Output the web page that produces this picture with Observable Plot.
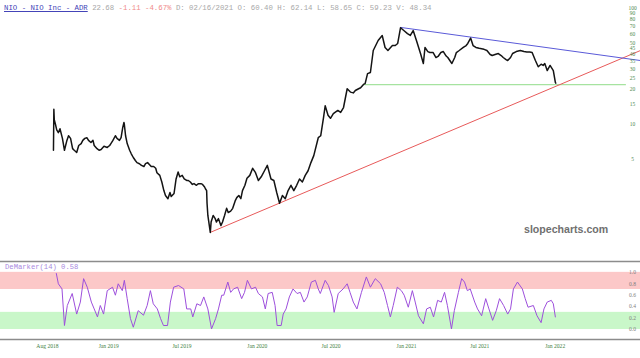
<!DOCTYPE html>
<html>
<head>
<meta charset="utf-8">
<script src="https://cdn.jsdelivr.net/npm/d3@7"></script>
<script src="https://cdn.jsdelivr.net/npm/@observablehq/plot@0.6"></script>
<style>
  html, body { margin: 0; padding: 0; background: #fff; }
  #wrap { position: relative; width: 640px; height: 358px; overflow: hidden; }
  #wrap svg { display: block; }
  #hdr { position: absolute; left: 4px; top: 3px; font-family: "Liberation Mono", "DejaVu Sans Mono", monospace; font-size: 7.35px; white-space: pre; color: #a8a8a8; line-height: 10px; }
  #hdr .t { color: #4444b8; text-decoration: underline; }
  #hdr .r { color: #f08a8a; }
  #wm { position: absolute; left: 524px; top: 223px; font-family: "Liberation Sans", Arial, sans-serif; font-weight: bold; font-size: 10.6px; color: #707070; }
  #dm { position: absolute; left: 5px; top: 262px; font-family: "Liberation Mono", "DejaVu Sans Mono", monospace; font-size: 7.2px; color: #a98ae0; white-space: pre; line-height: 10px; }
</style>
</head>
<body>
<div id="wrap">
  <div id="topPanel"></div>
  <div id="bottomPanel"></div>
  <div id="hdr"><span class="t">NIO - NIO Inc - ADR</span> 22.68 <span class="r">-1.11 -4.67%</span> D: 02/16/2021 O: 60.40 H: 62.14 L: 58.65 C: 59.23 V: 48.34</div>
  <div id="wm">slopecharts.com</div>
  <div id="dm">DeMarker(14) 0.58</div>
</div>
<script>
// ---------- data ----------
const priceDates = [
"2018-09-12","2018-09-13","2018-09-14","2018-09-17","2018-09-20","2018-09-24","2018-09-28","2018-10-04","2018-10-09","2018-10-15",
"2018-10-19","2018-10-24","2018-10-29","2018-11-02","2018-11-08","2018-11-13","2018-11-19","2018-11-23","2018-11-28","2018-12-03",
"2018-12-07","2018-12-13","2018-12-18","2018-12-21","2018-12-28","2019-01-02","2019-01-07","2019-01-14","2019-01-22","2019-01-28",
"2019-01-31","2019-02-05","2019-02-11","2019-02-15","2019-02-21","2019-02-25","2019-03-01","2019-03-04","2019-03-05","2019-03-08",
"2019-03-12","2019-03-18","2019-03-22","2019-03-27","2019-04-01","2019-04-05","2019-04-11","2019-04-16","2019-04-22","2019-04-26",
"2019-05-01","2019-05-06","2019-05-10","2019-05-16","2019-05-21","2019-05-24","2019-05-31","2019-06-05","2019-06-10","2019-06-14",
"2019-06-20","2019-06-25","2019-06-28","2019-07-05","2019-07-10","2019-07-15","2019-07-19","2019-07-25","2019-07-30","2019-08-05",
"2019-08-09","2019-08-14","2019-08-19","2019-08-23","2019-08-29","2019-09-03","2019-09-09","2019-09-13","2019-09-18","2019-09-20",
"2019-09-23","2019-09-24","2019-09-26","2019-10-02","2019-10-04","2019-10-09","2019-10-14","2019-10-17","2019-10-22","2019-10-28",
"2019-11-01","2019-11-06","2019-11-11","2019-11-15","2019-11-21","2019-11-26","2019-12-02","2019-12-06","2019-12-11","2019-12-16",
"2019-12-20","2019-12-26","2019-12-31","2020-01-07","2020-01-14","2020-01-21","2020-01-28","2020-02-04","2020-02-12","2020-02-19",
"2020-02-28","2020-03-06","2020-03-13","2020-03-20","2020-03-27","2020-04-03","2020-04-10","2020-04-17","2020-04-24","2020-05-01",
"2020-05-08","2020-05-15","2020-05-22","2020-05-29","2020-06-05","2020-06-12","2020-06-23","2020-06-29","2020-07-06","2020-07-10",
"2020-07-17","2020-07-23","2020-07-30","2020-08-10","2020-08-17","2020-08-24","2020-09-02","2020-09-10","2020-09-17","2020-09-22",
"2020-09-30","2020-10-05","2020-10-12","2020-10-16","2020-10-22","2020-10-29","2020-11-05","2020-11-17","2020-11-27","2020-12-04",
"2020-12-11","2020-12-22","2020-12-29","2021-01-04","2021-01-11","2021-01-19","2021-01-28","2021-02-04","2021-02-11","2021-02-19",
"2021-03-01","2021-03-08","2021-03-12","2021-03-19","2021-03-24","2021-04-01","2021-04-08","2021-04-13","2021-04-20","2021-04-26",
"2021-05-03","2021-05-07","2021-05-17","2021-05-24","2021-05-28","2021-06-04","2021-06-14","2021-06-21","2021-06-25","2021-07-02",
"2021-07-08","2021-07-15","2021-07-23","2021-08-04","2021-08-11","2021-08-19","2021-08-24","2021-08-31","2021-09-08","2021-09-15",
"2021-09-20","2021-09-27","2021-10-01","2021-10-08","2021-10-13","2021-10-22","2021-11-01","2021-11-10","2021-11-17","2021-11-24",
"2021-11-30","2021-12-08","2021-12-15","2021-12-22","2021-12-27","2021-12-31","2022-01-06","2022-01-13","2022-01-21","2022-01-26",
"2022-01-27"];
const priceValues = [
6.0,13.5,11.0,10.0,9.0,8.5,9.2,7.6,6.0,7.3,
8.0,7.6,6.2,6.0,5.75,6.6,6.85,7.3,7.6,7.7,
7.3,7.0,7.3,6.6,6.2,6.0,6.1,6.5,6.35,6.6,
6.85,7.3,8.0,7.6,7.3,7.7,9.4,10.4,10.0,8.0,
6.85,6.0,5.6,5.2,4.9,4.7,4.6,4.45,4.35,4.6,
4.7,4.5,4.35,4.35,4.2,3.85,3.65,3.2,2.7,2.45,
2.3,2.6,2.4,2.55,3.4,3.9,3.55,3.65,3.4,3.3,
3.3,3.2,3.05,3.1,3.0,3.1,3.1,3.05,2.9,2.8,
2.7,2.1,1.65,1.18,1.45,1.65,1.55,1.45,1.55,1.35,
1.45,1.65,1.9,1.75,1.8,1.9,2.2,2.35,2.45,2.3,
2.7,3.0,3.45,3.65,4.2,3.85,3.3,3.55,4.0,4.45,
3.4,3.3,2.6,2.1,2.45,2.3,2.7,3.0,2.7,3.0,
3.4,3.2,3.65,4.0,4.7,5.4,7.7,8.0,11.5,14.5,
12.0,11.3,12.4,13.2,12.7,14.0,20.3,19.0,18.7,19.6,
20.3,20.7,22.1,22.5,27.4,28.0,43.3,52.8,58.3,46.0,
43.3,47.8,47.8,49.8,68.0,64.3,60.5,58.3,64.3,52.8,
40.8,33.5,46.0,42.4,41.6,41.6,37.7,38.5,41.6,42.4,
38.8,37.7,33.5,37.7,41.6,43.3,46.0,47.8,49.8,55.4,
47.8,46.0,45.2,44.3,43.3,40.0,39.2,40.0,40.8,39.2,
37.7,36.2,35.5,37.7,40.8,42.4,43.3,42.4,42.0,42.0,
41.6,35.5,31.4,33.0,32.2,33.5,29.1,32.2,29.1,23.0,
22.68];

// trend lines (two end points each)
const supportDates = ["2019-10-02", "2022-08-23"];
const supportValues = [1.18, 43.3];
const resistDates = ["2021-01-11", "2022-08-23"];
const resistValues = [68.4, 35.5];
const levelDates = ["2020-10-15", "2022-07-17"];
const levelValues = [22.0, 22.0];

const priceTicks = [5, 10, 15, 20, 25, 30, 35, 40, 45, 50, 60, 70, 80, 90, 100];

const dmDates = [
"2018-09-19","2018-09-24","2018-10-03","2018-10-09","2018-10-16","2018-10-28","2018-11-08","2018-11-17","2018-11-25","2018-12-04",
"2018-12-14","2018-12-21","2018-12-29","2019-01-05","2019-01-13","2019-01-22","2019-02-04","2019-02-11","2019-02-18","2019-02-28",
"2019-03-05","2019-03-12","2019-03-20","2019-03-27","2019-04-08","2019-04-21","2019-04-30","2019-05-08","2019-05-15","2019-05-25",
"2019-06-02","2019-06-09","2019-06-19","2019-06-26","2019-07-04","2019-07-16","2019-07-29","2019-08-05","2019-08-15","2019-08-20",
"2019-08-30","2019-09-08","2019-09-16","2019-09-26","2019-10-05","2019-10-15","2019-10-22","2019-10-30","2019-11-04","2019-11-14",
"2019-11-21","2019-11-28","2019-12-08","2019-12-18","2019-12-25","2020-01-01","2020-01-11","2020-01-21","2020-01-28","2020-02-07",
"2020-02-14","2020-02-21","2020-03-02","2020-03-09","2020-03-14","2020-03-24","2020-03-29","2020-04-05","2020-04-13","2020-04-22",
"2020-05-02","2020-05-10","2020-05-19","2020-05-27","2020-06-06","2020-06-16","2020-06-23","2020-06-28","2020-07-10","2020-07-18",
"2020-07-27","2020-08-01","2020-08-11","2020-08-23","2020-09-02","2020-09-09","2020-09-17","2020-09-26","2020-10-07","2020-10-19",
"2020-10-29","2020-11-10","2020-11-23","2020-12-02","2020-12-10","2020-12-17","2020-12-24","2021-01-03","2021-01-13","2021-01-20",
"2021-01-30","2021-02-09","2021-02-16","2021-02-24","2021-03-08","2021-03-16","2021-03-25","2021-04-02","2021-04-12","2021-04-21",
"2021-04-29","2021-05-06","2021-05-16","2021-05-23","2021-06-02","2021-06-10","2021-06-17","2021-06-24","2021-07-01","2021-07-12",
"2021-07-19","2021-07-29","2021-08-08","2021-08-16","2021-08-25","2021-09-03","2021-09-11","2021-09-21","2021-10-01","2021-10-08",
"2021-10-15","2021-10-25","2021-11-06","2021-11-13","2021-11-20","2021-12-03","2021-12-12","2021-12-22","2021-12-29","2022-01-06",
"2022-01-16","2022-01-21","2022-01-26"];
const dmValues = [
0.98,0.80,0.71,0.07,0.42,0.63,0.27,0.48,0.89,0.74,
0.48,0.36,0.22,0.42,0.27,0.68,0.74,0.60,0.80,0.68,
0.86,0.54,0.19,0.04,0.33,0.25,0.42,0.68,0.45,0.36,
0.19,0.07,0.07,0.48,0.74,0.77,0.71,0.36,0.36,0.22,
0.45,0.42,0.57,0.36,0.01,0.19,0.36,0.60,0.60,0.83,
0.65,0.71,0.74,0.54,0.65,0.86,0.71,0.74,0.63,0.57,
0.36,0.63,0.65,0.42,0.07,0.07,0.27,0.36,0.57,0.71,
0.63,0.65,0.48,0.57,0.83,0.86,0.71,0.63,0.86,0.77,
0.57,0.30,0.63,0.71,0.80,0.65,0.48,0.36,0.65,0.92,
0.74,0.89,0.80,0.65,0.42,0.22,0.42,0.74,0.68,0.60,
0.39,0.68,0.48,0.24,0.10,0.36,0.39,0.22,0.51,0.48,
0.65,0.42,0.01,0.33,0.65,0.89,0.83,0.68,0.71,0.48,
0.36,0.24,0.54,0.36,0.16,0.33,0.54,0.42,0.27,0.36,
0.71,0.83,0.71,0.54,0.39,0.42,0.24,0.12,0.36,0.48,
0.51,0.45,0.22];

const dmBandsLow = [0.0, 0.7];
const dmBandsHigh = [0.3, 1.0];
const dmBandColors = ["#c9f7c9", "#fcc8c8"];
const dmTicks = [0.0, 0.2, 0.4, 0.6, 0.8, 1.0];
const dmPanel = [-0.175, 1.19];

const monthTickDates = ["2018-08-01","2019-01-01","2019-07-01","2020-01-01","2020-07-01","2021-01-01","2021-07-01","2022-01-01"];
const monthTickLabels = ["Aug 2018","Jan 2019","Jul 2019","Jan 2020","Jul 2020","Jan 2021","Jul 2021","Jan 2022"];

const xDomain = ["2018-05-05", "2022-08-23"];
const priceDomain = [0.732, 116.6];

// ---------- build ----------
const D = s => new Date(s + "T00:00:00Z");
const price = priceDates.map((d, i) => ({date: D(d), value: priceValues[i]}));
const support = supportDates.map((d, i) => ({date: D(d), value: supportValues[i]}));
const resist = resistDates.map((d, i) => ({date: D(d), value: resistValues[i]}));
const level = levelDates.map((d, i) => ({date: D(d), value: levelValues[i]}));
const dm = dmDates.map((d, i) => ({date: D(d), value: dmValues[i]}));
const bands = dmBandsLow.map((lo, i) => ({lo, hi: dmBandsHigh[i], color: dmBandColors[i]}));
const tickDates = monthTickDates.map(D);
const labelByTime = new Map(tickDates.map((d, i) => [+d, monthTickLabels[i]]));

const xScale = {type: "utc", domain: xDomain.map(D), axis: null};

const priceChart = Plot.plot({
  width: 640, height: 256,
  marginLeft: 0, marginRight: 0, marginTop: 0, marginBottom: 0,
  style: {background: "transparent", overflow: "visible"},
  x: xScale,
  y: {type: "log", domain: priceDomain, axis: null},
  marks: [
    Plot.line(level, {x: "date", y: "value", stroke: "#a6e3a0", strokeWidth: 1.2}),
    Plot.line(support, {x: "date", y: "value", stroke: "#e85a5a", strokeWidth: 1}),
    Plot.line(resist, {x: "date", y: "value", stroke: "#5a5ad8", strokeWidth: 1}),
    Plot.line(price, {x: "date", y: "value", stroke: "#141414", strokeWidth: 1.5, curve: "linear"}),
    Plot.text(priceTicks, {y: d => d, text: d => String(d), frameAnchor: "right", dx: -8, textAnchor: "middle",
      fontSize: 5.5, fill: "#4f8a4f", fontFamily: "Liberation Serif, serif"})
  ]
});
document.getElementById("topPanel").appendChild(priceChart);

const dmChart = Plot.plot({
  width: 640, height: 102,
  marginLeft: 0, marginRight: 0, marginTop: 5, marginBottom: 19,
  style: {background: "transparent", overflow: "visible"},
  x: xScale,
  y: {domain: dmPanel, axis: null},
  marks: [
    Plot.rect(bands, {y1: "lo", y2: "hi", fill: "color"}),
    Plot.ruleY(dmPanel, {stroke: "#8c8c8c", strokeWidth: 1.6}),
    Plot.line(dm, {x: "date", y: "value", stroke: "#9d4fdc", strokeWidth: 1}),
    Plot.text(dmTicks, {y: d => d, text: d => d3.format(".1f")(d), frameAnchor: "right", dx: -8, textAnchor: "middle",
      fontSize: 5.5, fill: "#808080", fontFamily: "Liberation Serif, serif"}),
    Plot.axisX(tickDates, {anchor: "bottom", tickSize: 0, tickPadding: 5, textAnchor: "start",
      tickFormat: d => labelByTime.get(+d), fontSize: 5.6, fill: "#3f7f3f", fontFamily: "Liberation Serif, serif", label: null})
  ]
});
document.getElementById("bottomPanel").appendChild(dmChart);
</script>
</body>
</html>
